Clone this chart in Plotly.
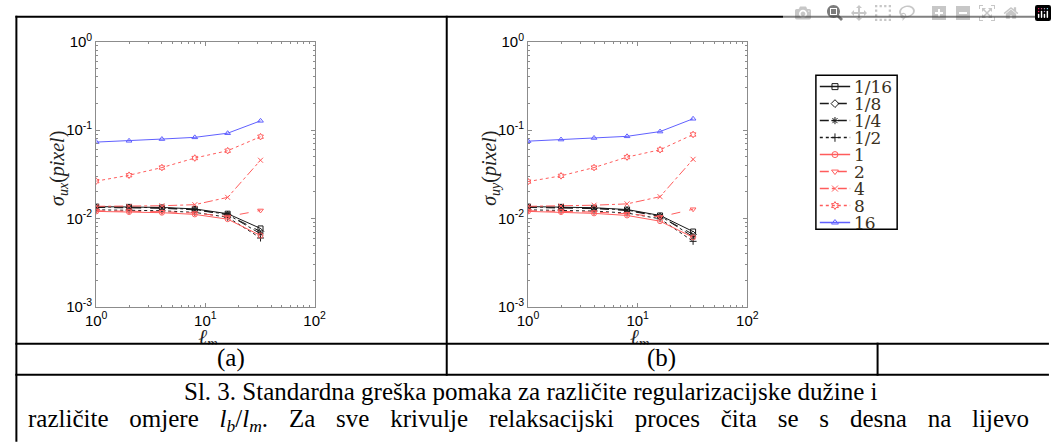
import plotly.graph_objects as go

# ---------------- data ----------------
lm = [1, 2, 4, 8, 16, 32]
ratio_labels = ["1/16", "1/8", "1/4", "1/2", "1", "2", "4", "8", "16"]

sigma_ux = {
    "1/16": [0.0136, 0.0135, 0.0133, 0.0128, 0.0113, 0.0077],
    "1/8":  [0.0133, 0.0132, 0.0130, 0.0125, 0.0110, 0.0071],
    "1/4":  [0.0135, 0.0134, 0.0132, 0.0126, 0.0111, 0.0067],
    "1/2":  [0.0125, 0.0124, 0.0122, 0.0117, 0.0103, 0.0060],
    "1":    [0.0120, 0.0118, 0.0116, 0.0111, 0.0098, 0.0064],
    "2":    [0.0122, 0.0121, 0.0119, 0.0115, 0.0105, 0.0123],
    "4":    [0.0137, 0.0137, 0.0139, 0.0143, 0.0173, 0.0455],
    "8":    [0.0264, 0.0308, 0.0376, 0.0482, 0.0583, 0.0840],
    "16":   [0.0730, 0.0755, 0.0790, 0.0826, 0.0920, 0.1270],
}
sigma_uy = {
    "1/16": [0.0136, 0.0135, 0.0132, 0.0126, 0.0108, 0.0071],
    "1/8":  [0.0133, 0.0132, 0.0129, 0.0123, 0.0105, 0.0066],
    "1/4":  [0.0135, 0.0134, 0.0131, 0.0124, 0.0107, 0.0062],
    "1/2":  [0.0125, 0.0124, 0.0121, 0.0115, 0.0099, 0.0055],
    "1":    [0.0120, 0.0118, 0.0114, 0.0108, 0.0093, 0.0061],
    "2":    [0.0122, 0.0121, 0.0118, 0.0113, 0.0104, 0.0127],
    "4":    [0.0137, 0.0138, 0.0141, 0.0146, 0.0176, 0.0466],
    "8":    [0.0261, 0.0303, 0.0376, 0.0494, 0.0598, 0.0890],
    "16":   [0.0748, 0.0780, 0.0813, 0.0848, 0.0960, 0.1340],
}

x_tickvals = [1, 10, 100]
x_ticktext = ["10<sup>0</sup>", "10<sup>1</sup>", "10<sup>2</sup>"]
y_tickvals = [0.001, 0.01, 0.1, 1]
y_ticktext = ["10<sup>-3</sup>", "10<sup>-2</sup>", "10<sup>-1</sup>", "10<sup>0</sup>"]
x_minor = [2, 3, 4, 5, 6, 7, 8, 9, 20, 30, 40, 50, 60, 70, 80, 90]
y_minor = [0.002, 0.003, 0.004, 0.005, 0.006, 0.007, 0.008, 0.009,
           0.02, 0.03, 0.04, 0.05, 0.06, 0.07, 0.08, 0.09,
           0.2, 0.3, 0.4, 0.5, 0.6, 0.7, 0.8, 0.9]

y_titles = ["<i>σ</i><sub><i>ux</i></sub>(<i>pixel</i>)",
            "<i>σ</i><sub><i>uy</i></sub>(<i>pixel</i>)"]
x_title = "<i>ℓ<sub>m</sub></i>"
panel_labels = ["(a)", "(b)"]
caption_1 = "Sl. 3. Standardna greška pomaka za različite regularizacijske dužine i"
caption_2_words = ["različite", "omjere", "<i>l<sub>b</sub></i>/<i>l<sub>m</sub></i>.",
                   "Za", "sve", "krivulje", "relaksacijski", "proces", "čita", "se",
                   "s", "desna", "na", "lijevo"]
top_fragment = "g"

# ---------------- styles ----------------
BLACK = "#1a1a1a"
RED = "#ff5c5c"
BLUE = "#6060ff"
styles = {
    "1/16": dict(color=BLACK, dash="solid", symbol="square-open"),
    "1/8":  dict(color=BLACK, dash="dash", symbol="diamond-open"),
    "1/4":  dict(color=BLACK, dash="dashdot", symbol="asterisk-open"),
    "1/2":  dict(color=BLACK, dash="dot", symbol="cross-thin-open"),
    "1":    dict(color=RED, dash="solid", symbol="circle-open"),
    "2":    dict(color=RED, dash="dash", symbol="triangle-down-open"),
    "4":    dict(color=RED, dash="dashdot", symbol="x-thin-open"),
    "8":    dict(color=RED, dash="dot", symbol="hexagram-open"),
    "16":   dict(color=BLUE, dash="solid", symbol="triangle-up-open"),
}

W, H = 1057, 444
def px(x):
    return x / W
def py(y):
    return 1 - y / H

serif = "Liberation Serif"
fig = go.Figure()

for data, xa, ya in [(sigma_ux, "x", "y"), (sigma_uy, "x2", "y2")]:
    for name in ratio_labels:
        st = styles[name]
        fig.add_trace(go.Scatter(
            x=lm, y=data[name], xaxis=xa, yaxis=ya, mode="lines+markers",
            line=dict(color=st["color"], dash=st["dash"], width=1),
            marker=dict(symbol=st["symbol"], size=5, color=st["color"],
                        line=dict(color=st["color"], width=1)),
            showlegend=False, name=name))

# ---------------- custom legend (axis 3) ----------------
row_gap = 17.75
for i, name in enumerate(ratio_labels):
    st = styles[name]
    yy = 12 + i * row_gap
    fig.add_trace(go.Scatter(
        x=[4, 35], y=[yy, yy], xaxis="x3", yaxis="y3", mode="lines",
        line=dict(color=st["color"], dash=st["dash"], width=1.5),
        showlegend=False, hoverinfo="skip"))
    fig.add_trace(go.Scatter(
        x=[19.5], y=[yy], xaxis="x3", yaxis="y3", mode="markers",
        marker=dict(symbol=st["symbol"], size=6, color=st["color"],
                    line=dict(color=st["color"], width=1)),
        showlegend=False, hoverinfo="skip"))
    fig.add_annotation(x=37, y=yy, xref="x3", yref="y3", text=name,
                       showarrow=False, xanchor="left", yanchor="middle",
                       font=dict(family="DejaVu Serif", size=17, color="#3a3020"))

# x-axis titles as text on a page-sized overlay axis (so the table row can clip them)
fig.add_trace(go.Scatter(
    x=[201, 642], y=[342, 342], xaxis="x4", yaxis="y4", mode="text",
    text=[x_title, x_title], textposition="middle center",
    textfont=dict(family=serif, size=21, color="#222"),
    showlegend=False, hoverinfo="skip", cliponaxis=False))
# glyph fragment of the text line above the table, clipped by the page edge
fig.add_trace(go.Scatter(
    x=[26], y=[-10.7], xaxis="x4", yaxis="y4", mode="text",
    text=[top_fragment], textposition="middle center",
    textfont=dict(family=serif, size=25, color="black"),
    showlegend=False, hoverinfo="skip", cliponaxis=True))

def log_axis(tv, tt, minor_vals):
    return dict(
        type="log", showline=True, linecolor="#8c8c8c", linewidth=1, mirror="ticks",
        ticks="inside", ticklen=4, tickcolor="#8c8c8c",
        tickmode="array", tickvals=tv, ticktext=tt,
        showgrid=False, zeroline=False,
        tickfont=dict(family="Liberation Sans", size=15, color="black"),
        minor=dict(ticks="inside", ticklen=2, tickcolor="#8c8c8c", showgrid=False,
                   tickmode="array", tickvals=minor_vals),
    )

fig.update_layout(
    width=W, height=H, margin=dict(l=0, r=0, t=0, b=0),
    paper_bgcolor="white", plot_bgcolor="rgba(0,0,0,0)", showlegend=False,
    xaxis=dict(domain=[px(87), px(310)], range=[0, 2], anchor="y",
               **log_axis(x_tickvals, x_ticktext, x_minor)),
    yaxis=dict(domain=[py(309), py(32)], range=[-3, 0], anchor="x",
               **log_axis(y_tickvals, y_ticktext, y_minor)),
    xaxis2=dict(domain=[px(528), px(752)], range=[0, 2], anchor="y2",
                **log_axis(x_tickvals, x_ticktext, x_minor)),
    yaxis2=dict(domain=[py(309), py(32)], range=[-3, 0], anchor="x2",
                **log_axis(y_tickvals, y_ticktext, y_minor)),
    xaxis3=dict(domain=[px(822), px(905)], range=[0, 83], anchor="y3", visible=False,
                fixedrange=True),
    yaxis3=dict(domain=[py(228), py(67)], range=[161, 0], anchor="x3", visible=False,
                fixedrange=True),
    xaxis4=dict(domain=[0, 1], range=[0, W], anchor="y4", visible=False, fixedrange=True),
    yaxis4=dict(domain=[0, 1], range=[H, 0], anchor="x4", visible=False, fixedrange=True),
)

shapes = []
# white cover for the label row (clips the axis titles like the reference)
shapes.append(dict(type="rect", xref="paper", yref="paper", x0=px(7), x1=1,
                   y0=py(379), y1=py(348.5), line=dict(width=0), fillcolor="white",
                   layer="above"))
def hline(y, x0, x1, w=2):
    shapes.append(dict(type="line", xref="paper", yref="paper", x0=px(x0), x1=px(x1),
                       y0=py(y), y1=py(y), line=dict(color="black", width=w)))
def vline(x, y0, y1, w=2):
    shapes.append(dict(type="line", xref="paper", yref="paper", x0=px(x), x1=px(x),
                       y0=py(y0), y1=py(y1), line=dict(color="black", width=w)))

hline(6, 4.5, 1060)
hline(347.5, 4.5, 1060)
hline(380, 4.5, 1060)
vline(5.5, 5, 450)
vline(445, 5, 381)
vline(885, 346.5, 381)
shapes.append(dict(type="rect", xref="paper", yref="paper", x0=px(822), x1=px(905),
                   y0=py(228), y1=py(67), line=dict(color="black", width=1.5),
                   fillcolor="white", layer="below"))
fig.update_layout(shapes=shapes)

def note(x, y, text, size, angle=0, color="black"):
    fig.add_annotation(x=px(x), y=py(y), xref="paper", yref="paper", text=text,
                       textangle=angle, showarrow=False, xanchor="center",
                       yanchor="middle", font=dict(family=serif, size=size, color=color))

# y-axis titles
for xc, lab in zip([49, 490], y_titles):
    note(xc, 164, lab, 20, angle=-90, color="#222")

# panel labels
for xc, lab in zip([225, 664], panel_labels):
    note(xc, 363, lab, 25)

# caption (second line is a justified line: widened word gaps)
note(531, 398, caption_1, 25)
note(528, 428, "\u2002\u2004".join(caption_2_words), 25)

fig.write_html("out.html", post_script="document.body.style.margin='0';")
